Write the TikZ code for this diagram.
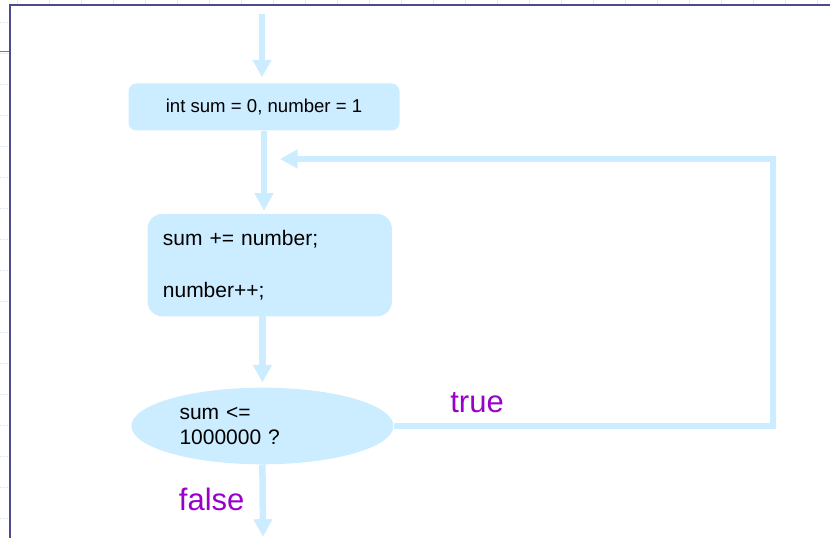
\documentclass[tikz,border=0pt]{standalone}
\usepackage{fontspec}
\setmainfont{Liberation Sans}
\usetikzlibrary{positioning,arrows.meta,shapes.geometric}
\definecolor{flowblue}{RGB}{204,236,255}
\definecolor{truepurple}{RGB}{153,0,204}
\definecolor{framebl}{RGB}{76,76,140}
\definecolor{markbl}{RGB}{100,115,220}
\definecolor{gridbl}{RGB}{228,231,250}

\begin{document}
\begin{tikzpicture}[
    x=1pt, y=1pt,
    block/.style={fill=flowblue, rounded corners=8pt, align=center, inner sep=0pt, font=\fontsize{18.6}{22}\selectfont},
    bigblock/.style={fill=flowblue, rounded corners=15pt, align=left, inner xsep=15.4pt, inner ysep=0pt, font=\fontsize{21}{26}\selectfont},
    decision/.style={ellipse, fill=flowblue, inner sep=0pt, align=left, font=\fontsize{21}{25}\selectfont},
    flow/.style={draw=flowblue, line width=6.5pt, -{Triangle[length=17.5pt,width=18pt]}},
    lbl/.style={text=truepurple, inner sep=0pt, font=\fontsize{31}{36}\selectfont}
]
\useasboundingbox (0,0) rectangle (830,538);

% slide frame
\foreach \gx in {17,49,...,817}
    \draw[gridbl, line width=0.8pt] (\gx,538) -- (\gx,534);
\foreach \gy in {516,485,...,10}
    \draw[gridbl, line width=0.8pt, dash pattern=on 2pt off 1pt] (0,\gy) -- (8,\gy);
\draw[framebl, line width=1.8pt] (9.7,0) -- (9.7,532.6) -- (830,532.6);
\draw[markbl, line width=1.3pt] (0,486.3) -- (8.8,486.3);

% Nodes
\node[block, minimum width=271pt, minimum height=47pt] (init) at (264,431) {int sum = 0, number = 1};
\node[bigblock, text width=213.6pt, minimum height=102.4pt, below=83pt of init, xshift=5.7pt] (body) {sum += number;\\[26pt]number++;};
\node[decision, text width=165.8pt, minimum width=262pt, minimum height=76.6pt, below=71pt of body, xshift=-7.3pt] (test) {sum <=\\1000000 ?};

\coordinate (entry) at (262,524);
\coordinate (exit) at (263,1.3);
\coordinate (rturn) at (773,379);
\coordinate (back) at (280,379);

% Arrows
\draw[flow, shorten >=6pt] (entry) -- (entry |- init.north);
\draw[flow, shorten >=3pt] (init.south) -- (init.south |- body.north);
\draw[flow, shorten >=5pt] (test.north |- body.south) -- (test.north);
\draw[flow] (test.south) -- node[lbl, left=15pt, pos=0.49] {false} (exit);
\draw[flow] (test.east) -| node[lbl, above=10pt, pos=0.11] {true} (rturn) -- (back);

\end{tikzpicture}
\end{document}
